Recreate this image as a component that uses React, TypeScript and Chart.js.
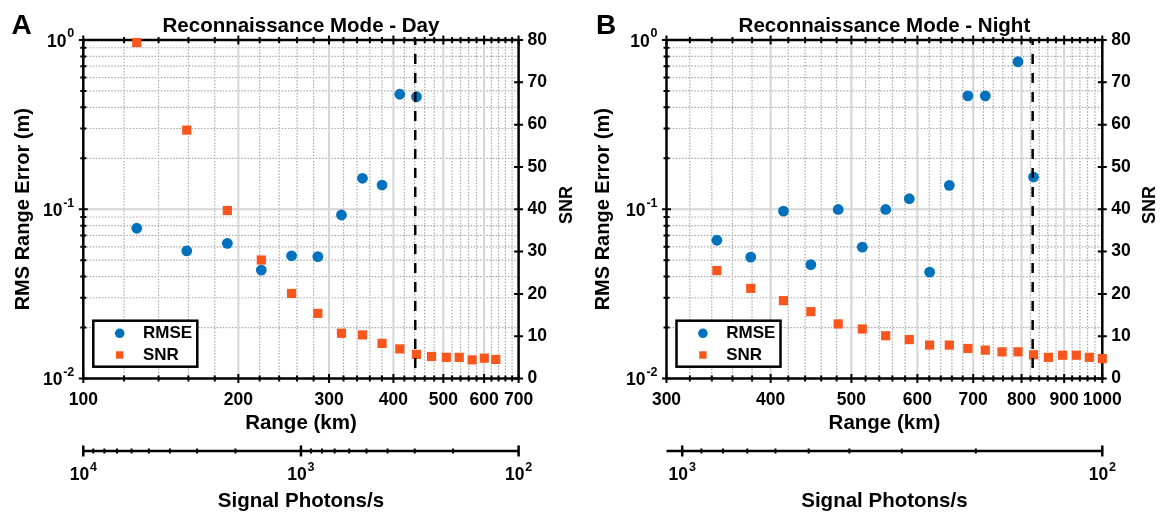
import React, { useEffect, useRef } from 'react';
import { Chart, registerables } from 'chart.js';

Chart.register(...registerables);

const FONT = "'Liberation Sans', Arial, Helvetica, sans-serif";
const NARROW = "'Liberation Sans Narrow', 'Liberation Sans', Arial, sans-serif";
const BLUE = '#0072BD';
const ORANGE = '#F8561D';

// ---------- Panel A : Day ----------
const dayRmseRange = [127.0, 158.8, 190.4, 221.6, 253.7, 285.3, 317.1, 348.3, 380.2, 411.6, 443.4];
const dayRmse = [0.0772, 0.0568, 0.0629, 0.0437, 0.0531, 0.0525, 0.0925, 0.1524, 0.139, 0.478, 0.462];
const daySnrRange = [127.0, 158.8, 190.4, 221.6, 253.7, 285.3, 317.1, 348.3, 380.2, 411.6, 443.4, 474.3, 506.7, 536.8, 568.7, 600.5, 632.0];
const daySnr = [79.4, 58.7, 39.7, 28.0, 20.1, 15.4, 10.7, 10.3, 8.3, 7.0, 5.7, 5.2, 5.0, 5.0, 4.4, 4.8, 4.5];
const dayCutoff = 441;
const dayRangeTicks = [100, 200, 300, 400, 500, 600, 700];
const dayPhotonTicks = [10000, 1000, 100];
const dayPhotonExponents = ['4', '3', '2'];

// ---------- Panel B : Night ----------
const nightRmseRange = [344.8, 378.6, 414.4, 447.0, 482.1, 515.3, 549.7, 586.7, 620.6, 655.3, 689.8, 723.8, 792.2, 827.0];
const nightRmse = [0.0656, 0.0521, 0.0975, 0.0471, 0.0997, 0.0597, 0.0997, 0.1154, 0.0425, 0.1384, 0.468, 0.468, 0.744, 0.155];
const nightSnrRange = [344.8, 378.6, 414.4, 447.0, 482.1, 515.3, 549.7, 586.7, 620.6, 655.3, 689.8, 723.8, 758.0, 792.2, 827.0, 861.6, 896.0, 930.7, 964.8, 1000];
const nightSnr = [25.5, 21.3, 18.4, 15.8, 12.9, 11.7, 10.1, 9.2, 7.9, 7.9, 7.1, 6.7, 6.3, 6.3, 5.6, 5.0, 5.5, 5.5, 5.0, 4.7];
const nightCutoff = 825;
const nightRangeTicks = [300, 400, 500, 600, 700, 800, 900, 1000];
const nightPhotonTicks = [1000, 100];
const nightPhotonExponents = ['3', '2'];

// ---------- shared axes ----------
const rmseTicks = [0.01, 0.1, 1];
const rmseExponents = ['-2', '-1', '0'];
const snrMax = 80;

type Spec = {
  letter: string;
  title: string;
  rangeMin: number;
  rangeMax: number;
  rangeTicks: number[];
  photonMin: number;
  photonMax: number;
  photonTicks: number[];
  photonExponents: string[];
  rmseRange: number[];
  rmse: number[];
  snrRange: number[];
  snr: number[];
  cutoff: number;
  leftW: number;
  rightW: number;
  letterX: number;
};

const daySpec: Spec = {
  letter: 'A',
  title: 'Reconnaissance Mode - Day',
  rangeMin: 100,
  rangeMax: 700,
  rangeTicks: dayRangeTicks,
  photonMin: 100,
  photonMax: 10000,
  photonTicks: dayPhotonTicks,
  photonExponents: dayPhotonExponents,
  rmseRange: dayRmseRange,
  rmse: dayRmse,
  snrRange: daySnrRange,
  snr: daySnr,
  cutoff: dayCutoff,
  leftW: 83.3,
  rightW: 61.4,
  letterX: 21.5,
};

const nightSpec: Spec = {
  letter: 'B',
  title: 'Reconnaissance Mode - Night',
  rangeMin: 300,
  rangeMax: 1000,
  rangeTicks: nightRangeTicks,
  photonMin: 100,
  photonMax: 1090,
  photonTicks: nightPhotonTicks,
  photonExponents: nightPhotonExponents,
  rmseRange: nightRmseRange,
  rmse: nightRmse,
  snrRange: nightSnrRange,
  snr: nightSnr,
  cutoff: nightCutoff,
  leftW: 86.5,
  rightW: 58.7,
  letterX: 26,
};

const BASE_FONT = `bold 17.5px ${FONT}`;
const EXP_FONT = `bold 12.5px ${FONT}`;

// draws "10" with a raised exponent; anchor: 'right' (x = right edge) or 'center'
function drawPower(ctx: CanvasRenderingContext2D, exp: string, x: number, yMid: number, anchor: 'right' | 'center') {
  ctx.font = BASE_FONT;
  const bw = ctx.measureText('10').width;
  ctx.font = EXP_FONT;
  const ew = ctx.measureText(exp).width;
  const gap = 0.8;
  const total = bw + gap + ew;
  const start = anchor === 'right' ? x - total : x - total / 2;
  ctx.fillStyle = '#000';
  ctx.textBaseline = 'middle';
  ctx.textAlign = 'left';
  ctx.font = BASE_FONT;
  ctx.fillText('10', start, yMid);
  ctx.font = EXP_FONT;
  ctx.fillText(exp, start + bw + gap, yMid - 8);
}

function buildConfig(s: Spec): any {
  const tickFont = { family: FONT, size: 17.5, weight: 'bold' };
  const titleFont = { family: FONT, size: 20.5, weight: 'bold' };

  const minorX: number[] = [];
  for (let v = s.rangeMin + 20; v < s.rangeMax; v += 20) if (v % 100 !== 0) minorX.push(v);
  const minorY: number[] = [];
  for (const d of [0.01, 0.1]) for (let k = 2; k <= 9; k++) minorY.push(+(k * d).toFixed(3));
  const minorP: number[] = [];
  for (const d of [100, 1000]) for (let k = 2; k <= 9; k++) {
    const v = k * d;
    if (v > s.photonMin && v < s.photonMax) minorP.push(v);
  }
  const snrTicks: number[] = [];
  for (let v = 0; v <= snrMax; v += 10) snrTicks.push(v);

  const plugin = {
    id: 'matlabAxes',
    beforeDatasetsDraw(chart: any) {
      const { ctx, chartArea: ca, scales } = chart;
      const xs = scales.x, ys = scales.y, y2 = scales.y2;
      ctx.save();
      ctx.beginPath();
      ctx.rect(ca.left, ca.top, ca.right - ca.left, ca.bottom - ca.top);
      ctx.clip();
      // minor dotted grid
      ctx.lineWidth = 1.2;
      ctx.strokeStyle = '#a9a9a9';
      ctx.setLineDash([1.5, 1.6]);
      ctx.beginPath();
      minorX.forEach((v) => {
        const p = xs.getPixelForValue(v);
        ctx.moveTo(p, ca.top);
        ctx.lineTo(p, ca.bottom);
      });
      minorY.forEach((v) => {
        const p = ys.getPixelForValue(v);
        ctx.moveTo(ca.left, p);
        ctx.lineTo(ca.right, p);
      });
      ctx.stroke();
      // major solid grid
      ctx.setLineDash([]);
      ctx.strokeStyle = '#d5d5d5';
      ctx.lineWidth = 2;
      ctx.beginPath();
      s.rangeTicks.forEach((v) => {
        if (v <= s.rangeMin || v >= s.rangeMax) return;
        const p = xs.getPixelForValue(v);
        ctx.moveTo(p, ca.top);
        ctx.lineTo(p, ca.bottom);
      });
      rmseTicks.forEach((v) => {
        const p = ys.getPixelForValue(v);
        ctx.moveTo(ca.left, p);
        ctx.lineTo(ca.right, p);
      });
      ctx.stroke();
      ctx.restore();

      // box and ticks
      ctx.save();
      ctx.strokeStyle = '#000';
      ctx.lineWidth = 2.5;
      ctx.strokeRect(ca.left, ca.top, ca.right - ca.left, ca.bottom - ca.top);
      ctx.lineWidth = 2;
      ctx.beginPath();
      const vt = (p: number, y: number, h: number) => { ctx.moveTo(p, y - h); ctx.lineTo(p, y + h); };
      const ht = (p: number, x: number, h: number) => { ctx.moveTo(x - h, p); ctx.lineTo(x + h, p); };
      s.rangeTicks.forEach((v) => {
        const p = xs.getPixelForValue(v);
        vt(p, ca.bottom, 4.5);
        vt(p, ca.top, 4.5);
      });
      minorX.forEach((v) => {
        const p = xs.getPixelForValue(v);
        vt(p, ca.bottom, 3);
        vt(p, ca.top, 3);
      });
      rmseTicks.forEach((v) => ht(ys.getPixelForValue(v), ca.left, 4.5));
      minorY.forEach((v) => ht(ys.getPixelForValue(v), ca.left, 3));
      snrTicks.forEach((v) => ht(y2.getPixelForValue(v), ca.right, 4.5));
      ctx.stroke();
      ctx.restore();

      // left axis labels 10^n, placed from the scale
      ctx.save();
      rmseTicks.forEach((v, i) => {
        drawPower(ctx, rmseExponents[i], ca.left - 9, ys.getPixelForValue(v) + 2, 'right');
      });
      ctx.restore();
    },
    afterDatasetsDraw(chart: any) {
      const { ctx, chartArea: ca, scales } = chart;
      ctx.save();
      // legend
      const ds = chart.data.datasets;
      const lx = ca.left + 10, ly = ca.bottom - 57.8, lw = 104, lh = 46;
      ctx.fillStyle = '#fff';
      ctx.fillRect(lx, ly, lw, lh);
      ctx.lineWidth = 2.5;
      ctx.strokeStyle = '#000';
      ctx.strokeRect(lx, ly, lw, lh);
      ctx.fillStyle = ds[1].pointBackgroundColor;
      ctx.beginPath();
      ctx.arc(lx + 26.4, ly + 12.6, 4.8, 0, Math.PI * 2);
      ctx.fill();
      ctx.fillStyle = ds[2].pointBackgroundColor;
      ctx.fillRect(lx + 26.4 - 3.7, ly + 34.3 - 3.7, 7.4, 7.4);
      ctx.fillStyle = '#000';
      ctx.font = `bold 17px ${FONT}`;
      ctx.textAlign = 'left';
      ctx.textBaseline = 'middle';
      ctx.fillText(ds[1].label, lx + 49.7, ly + 12.8);
      ctx.fillText(ds[2].label, lx + 49.7, ly + 34.5);

      // panel letter
      ctx.font = `bold 28px ${FONT}`;
      ctx.textAlign = 'center';
      ctx.fillText(s.letter, s.letterX, 26);

      // right axis title (reads bottom-to-top)
      ctx.save();
      ctx.translate(ca.right + 48.2, 205);
      ctx.rotate(-Math.PI / 2);
      ctx.font = `bold 18px ${NARROW}`;
      ctx.textAlign = 'center';
      ctx.textBaseline = 'middle';
      ctx.fillText('SNR', 0, 0);
      ctx.restore();

      // photon axis line, ticks and labels
      const ps = scales.photon;
      const yl = ps.top;
      ctx.strokeStyle = '#000';
      ctx.lineWidth = 2.5;
      ctx.beginPath();
      ctx.moveTo(ps.left, yl);
      ctx.lineTo(ps.right, yl);
      ctx.stroke();
      ctx.beginPath();
      s.photonTicks.forEach((v) => {
        const p = ps.getPixelForValue(v);
        ctx.moveTo(p, yl - 5.5);
        ctx.lineTo(p, yl + 5.5);
      });
      ctx.stroke();
      ctx.lineWidth = 2;
      ctx.beginPath();
      minorP.forEach((v) => {
        const p = ps.getPixelForValue(v);
        ctx.moveTo(p, yl - 2.6);
        ctx.lineTo(p, yl + 2.6);
      });
      ctx.stroke();
      s.photonTicks.forEach((v, i) => {
        drawPower(ctx, s.photonExponents[i], ps.getPixelForValue(v), yl + 24.5, 'center');
      });
      ctx.restore();
    },
  };

  return {
    type: 'scatter',
    data: {
      datasets: [
        {
          label: 'cutoff',
          data: [{ x: s.cutoff, y: snrMax }, { x: s.cutoff, y: 0 }],
          xAxisID: 'x',
          yAxisID: 'y2',
          showLine: true,
          borderColor: '#000',
          borderWidth: 2.5,
          borderDash: [10, 9],
          borderDashOffset: 5,
          pointRadius: 0,
          order: 0,
        },
        {
          label: 'RMSE',
          data: s.rmseRange.map((x, i) => ({ x, y: s.rmse[i] })),
          xAxisID: 'x',
          yAxisID: 'y',
          pointStyle: 'circle',
          pointRadius: 5.4,
          pointBackgroundColor: BLUE,
          pointBorderColor: BLUE,
          pointBorderWidth: 0,
          order: 1,
          clip: false,
        },
        {
          label: 'SNR',
          data: s.snrRange.map((x, i) => ({ x, y: s.snr[i] })),
          xAxisID: 'x',
          yAxisID: 'y2',
          pointStyle: 'rect',
          pointRadius: 6.5,
          pointBackgroundColor: ORANGE,
          pointBorderColor: ORANGE,
          pointBorderWidth: 0,
          order: 2,
          clip: false,
        },
      ],
    },
    options: {
      responsive: false,
      animation: false,
      devicePixelRatio: 1,
      events: [],
      layout: { padding: 0 },
      plugins: {
        legend: { display: false },
        tooltip: { enabled: false },
        title: {
          display: true,
          text: s.title,
          fullSize: false,
          color: '#000',
          font: titleFont,
          padding: { top: 13.7, bottom: 1.7 },
        },
      },
      scales: {
        x: {
          type: 'logarithmic',
          position: 'bottom',
          weight: 0,
          min: s.rangeMin,
          max: s.rangeMax,
          afterBuildTicks: (sc: any) => { sc.ticks = s.rangeTicks.map((v) => ({ value: v })); },
          afterFit: (sc: any) => { sc.height = 72.5; },
          grid: { display: false, drawTicks: false },
          border: { display: false },
          ticks: {
            autoSkip: false,
            maxRotation: 0,
            minRotation: 0,
            padding: 11,
            color: '#000',
            font: tickFont,
            callback: (v: any) => String(v),
          },
          title: {
            display: true,
            text: 'Range (km)',
            color: '#000',
            font: titleFont,
            padding: { top: 0, bottom: 15 },
          },
        },
        photon: {
          type: 'logarithmic',
          position: 'bottom',
          weight: 1,
          reverse: true,
          min: s.photonMin,
          max: s.photonMax,
          afterBuildTicks: (sc: any) => { sc.ticks = s.photonTicks.map((v) => ({ value: v })); },
          afterFit: (sc: any) => { sc.height = 65; },
          grid: { display: false, drawTicks: false },
          border: { display: false },
          ticks: { display: false },
          title: {
            display: true,
            text: 'Signal Photons/s',
            color: '#000',
            font: titleFont,
            padding: { top: 0, bottom: 2 },
          },
        },
        y: {
          type: 'logarithmic',
          position: 'left',
          min: 0.01,
          max: 1,
          afterBuildTicks: (sc: any) => { sc.ticks = rmseTicks.map((v) => ({ value: v })); },
          afterFit: (sc: any) => { sc.width = s.leftW; },
          grid: { display: false, drawTicks: false },
          border: { display: false },
          ticks: { display: false },
          title: {
            display: true,
            text: 'RMS Range Error (m)',
            color: '#000',
            font: { family: FONT, size: 20, weight: 'bold' },
            padding: { top: 11, bottom: 0 },
          },
        },
        y2: {
          type: 'linear',
          position: 'right',
          min: 0,
          max: snrMax,
          afterFit: (sc: any) => { sc.width = s.rightW; },
          grid: { display: false, drawTicks: false },
          border: { display: false },
          ticks: {
            stepSize: 10,
            padding: 9,
            color: '#000',
            font: tickFont,
          },
          title: { display: false },
        },
      },
    },
    plugins: [plugin],
  };
}

function Panel({ spec, left, width }: { spec: Spec; left: number; width: number }) {
  const ref = useRef<HTMLCanvasElement>(null);
  useEffect(() => {
    const chart = new Chart(ref.current as HTMLCanvasElement, buildConfig(spec));
    return () => chart.destroy();
  }, [spec]);
  return (
    <canvas
      ref={ref}
      width={width}
      height={516}
      style={{ position: 'absolute', left, top: 0, width, height: 516, display: 'block' }}
    />
  );
}

export default function App() {
  return (
    <div
      style={{
        position: 'absolute',
        left: 0,
        top: 0,
        width: 1161,
        height: 516,
        background: '#fff',
        overflow: 'hidden',
      }}
    >
      <Panel spec={daySpec} left={0} width={580} />
      <Panel spec={nightSpec} left={580} width={581} />
    </div>
  );
}
